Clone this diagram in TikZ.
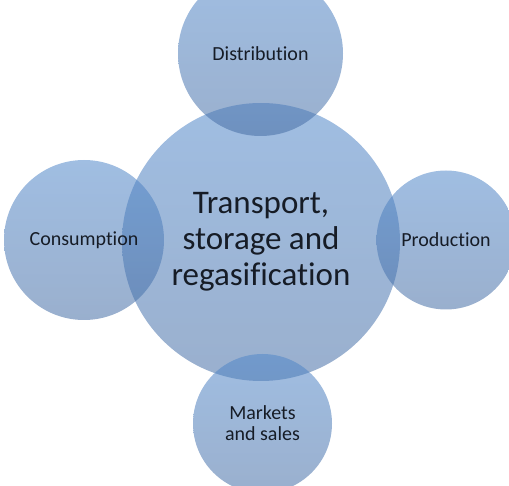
\documentclass[tikz,border=0pt]{standalone}
\usepackage{fontspec}
\setmainfont{Carlito}[Ligatures=NoCommon]
\usetikzlibrary{positioning}
\definecolor{vennTop}{RGB}{82,136,202}
\definecolor{vennBottom}{RGB}{70,110,165}
\definecolor{vennText}{RGB}{22,28,38}
\tikzset{
  bubble/.style={circle, top color=vennTop, bottom color=vennBottom, fill opacity=0.55,
                 text opacity=1, text=vennText, align=center, inner sep=0pt},
  bigbubble/.style={bubble, minimum size=278pt, font=\fontsize{33}{36}\selectfont},
  smallbubble/.style={bubble, font=\fontsize{20}{21}\selectfont}
}
\begin{document}
\begin{tikzpicture}[x=1pt, y=-1pt]
\useasboundingbox (0,0) rectangle (509,486);
\clip (0,0) rectangle (509,486);
\node[bigbubble] (hub) at (261,242) {Transport,\\storage and\\regasification};
\node[smallbubble, minimum size=165pt] (dist) at (260.5,53.5) {Distribution};
\node[smallbubble, minimum size=160pt] (cons) at (84,240) {Consumption};
\node[smallbubble, minimum size=139pt] (prod) at (446,240) {Production};
\node[smallbubble, minimum size=139pt] (mark) at (262.5,423.5) {Markets\\and sales};
\end{tikzpicture}
\end{document}
